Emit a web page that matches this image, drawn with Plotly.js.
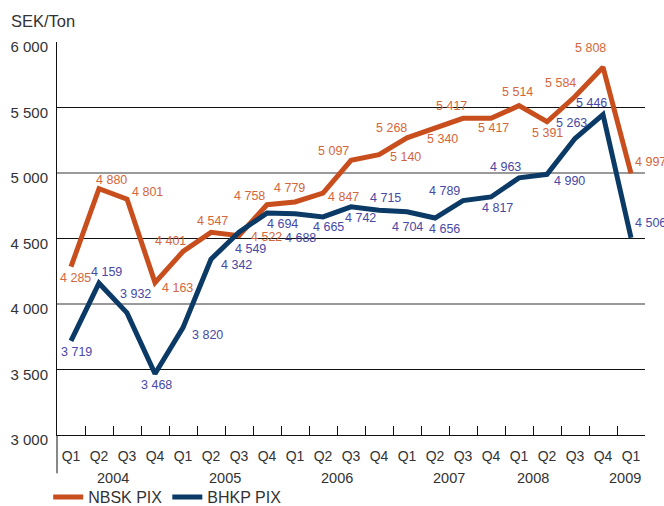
<!DOCTYPE html>
<html>
<head>
<meta charset="utf-8">
<script src="https://cdn.plot.ly/plotly-3.0.1.min.js"></script>
<style>html,body{margin:0;padding:0;background:#fff;}#chart{width:664px;height:506px;}</style>
</head>
<body>
<div id="chart"></div>
<script>
// ---- data ----
const quarters = ['Q1','Q2','Q3','Q4','Q1','Q2','Q3','Q4','Q1','Q2','Q3','Q4','Q1','Q2','Q3','Q4','Q1','Q2','Q3','Q4','Q1'];
const years = ['2004','2005','2006','2007','2008','2009'];
const nbsk = [4285,4880,4801,4163,4401,4547,4522,4758,4779,4847,5097,5140,5268,5340,5417,5417,5514,5391,5584,5808,4997];
const bhkp = [3719,4159,3932,3468,3820,4342,4549,4694,4688,4665,4742,4715,4704,4656,4789,4817,4963,4990,5263,5446,4506];
const yTickVals = [3000,3500,4000,4500,5000,5500,6000];
const yTickText = ['3 000','3 500','4 000','4 500','5 000','5 500','6 000'];
const seriesNames = ['NBSK PIX','BHKP PIX'];

// ---- label placement (pixel offsets from each point) ----
const yearLabelX = [1.5,5.5,9.5,13.5,16.5,19.8];
const nbskDx = [4,12.5,20.6,22,-13,1,27,-17.6,-5.5,20.6,-18,26,-16,7,-12,2,-1.5,0,-14.5,-13,19];
const nbskDy = [11,-9,-7,5,-10,-11,1,-9,-14,4,-9,2,-10,11,-12,9.5,-14,11,-13.7,-19,-11.5];
const bhkpDx = [5.6,7.5,8.6,1,24,25,11,15.6,5.5,5.6,9,6,0,9,-19,6,-14,22,-3.5,-12,19];
const bhkpDy = [11,-11,-19,11.5,7,6,17,11,24,10,11,-12,15,11,-10,11,-11,7,-16,-12,-15];

const idx = quarters.map((q,i)=>i);
const boundaries = quarters.concat(['']).map((q,i)=>i-0.5);

const ORANGE = '#c84f1d', NAVY = '#0b3a66';
const ORANGE_TXT = '#d4663c', NAVY_TXT = '#4848a6';
const FONT = 'Liberation Sans, Arial, Helvetica, sans-serif';

function fmt(v){ const t=Math.floor(v/1000), r=v%1000; return t+' '+String(r).padStart(3,'0'); }

const traces = [
  // helper traces (no points) so the overlay axes for grid and boundary ticks get drawn
  {x:[], y:[], xaxis:'x2', yaxis:'y', type:'scatter', mode:'lines', showlegend:false, hoverinfo:'skip'},
  {x:[], y:[], xaxis:'x', yaxis:'y2', type:'scatter', mode:'lines', showlegend:false, hoverinfo:'skip'},
  {x: idx, y: nbsk, name: seriesNames[0], type:'scatter', mode:'lines', line:{color:ORANGE, width:5}, hoverinfo:'skip'},
  {x: idx, y: bhkp, name: seriesNames[1], type:'scatter', mode:'lines', line:{color:NAVY, width:5}, hoverinfo:'skip'}
];

const annotations = [];
nbsk.forEach((v,i)=>annotations.push({x:i, y:v, xref:'x', yref:'y', text:fmt(v), showarrow:false,
  xshift:nbskDx[i], yshift:-nbskDy[i], font:{family:FONT, size:12.5, color:ORANGE_TXT}}));
bhkp.forEach((v,i)=>annotations.push({x:i, y:v, xref:'x', yref:'y', text:fmt(v), showarrow:false,
  xshift:bhkpDx[i], yshift:-bhkpDy[i], font:{family:FONT, size:12.5, color:NAVY_TXT}}));
years.forEach((yr,i)=>annotations.push({x:yearLabelX[i], y:-0.11, xref:'x', yref:'paper', text:yr, showarrow:false,
  yanchor:'middle', font:{family:FONT, size:14.5, color:'#333'}}));

const layout = {
  width:664, height:506,
  margin:{l:57, r:19, t:42, b:71, autoexpand:false},
  paper_bgcolor:'#fff', plot_bgcolor:'#fff',
  font:{family:FONT, color:'#333'},
  title:{text:'SEK/Ton', xref:'container', yref:'container', x:11/664, xanchor:'left', y:1-21/506, yanchor:'middle',
    font:{family:FONT, size:16.5, color:'#333'}},
  showlegend:true,
  legend:{orientation:'h', x:-0.015, xanchor:'left', yref:'container', y:9/506, yanchor:'middle',
    font:{family:FONT, size:16, color:'#333'}, bgcolor:'rgba(0,0,0,0)', traceorder:'normal'},
  xaxis:{range:[-0.5,20.5], tickmode:'array', tickvals:idx, ticktext:quarters, ticks:'', showgrid:false, zeroline:false,
    showline:true, linecolor:'#111', linewidth:1, tickfont:{family:FONT, size:14, color:'#333'}, ticklabelstandoff:8},
  xaxis2:{range:[-0.5,20.5], overlaying:'x', anchor:'y', side:'bottom', tickmode:'array', tickvals:boundaries,
    ticks:'inside', ticklen:9, tickcolor:'#111', tickwidth:1, showticklabels:false, showgrid:false, zeroline:false, showline:false},
  yaxis:{range:[3000,6000], tickmode:'array', tickvals:yTickVals, ticktext:yTickText, showgrid:false, zeroline:false,
    showline:true, linecolor:'#111', linewidth:1, ticks:'', tickfont:{family:FONT, size:15, color:'#333'},
    ticklabelstandoff:5, ticklabelshift:5},
  yaxis2:{range:[3000,6000], overlaying:'y', anchor:'x', side:'left', tickmode:'array', tickvals:[4000,5000,6000], showticklabels:false,
    showgrid:true, gridcolor:'#9a9a9a', gridwidth:2, zeroline:false, showline:false, ticks:'',
    minor:{tickmode:'array', tickvals:[3500,4500,5500], showgrid:true, gridcolor:'#111', gridwidth:1, ticks:''}},
  shapes:[{type:'line', xref:'paper', yref:'paper', x0:0, x1:0, y0:-0.0975, y1:0, line:{color:'#111', width:1}}],
  annotations: annotations
};

Plotly.newPlot('chart', traces, layout, {displayModeBar:false, staticPlot:true});
</script>
</body>
</html>
